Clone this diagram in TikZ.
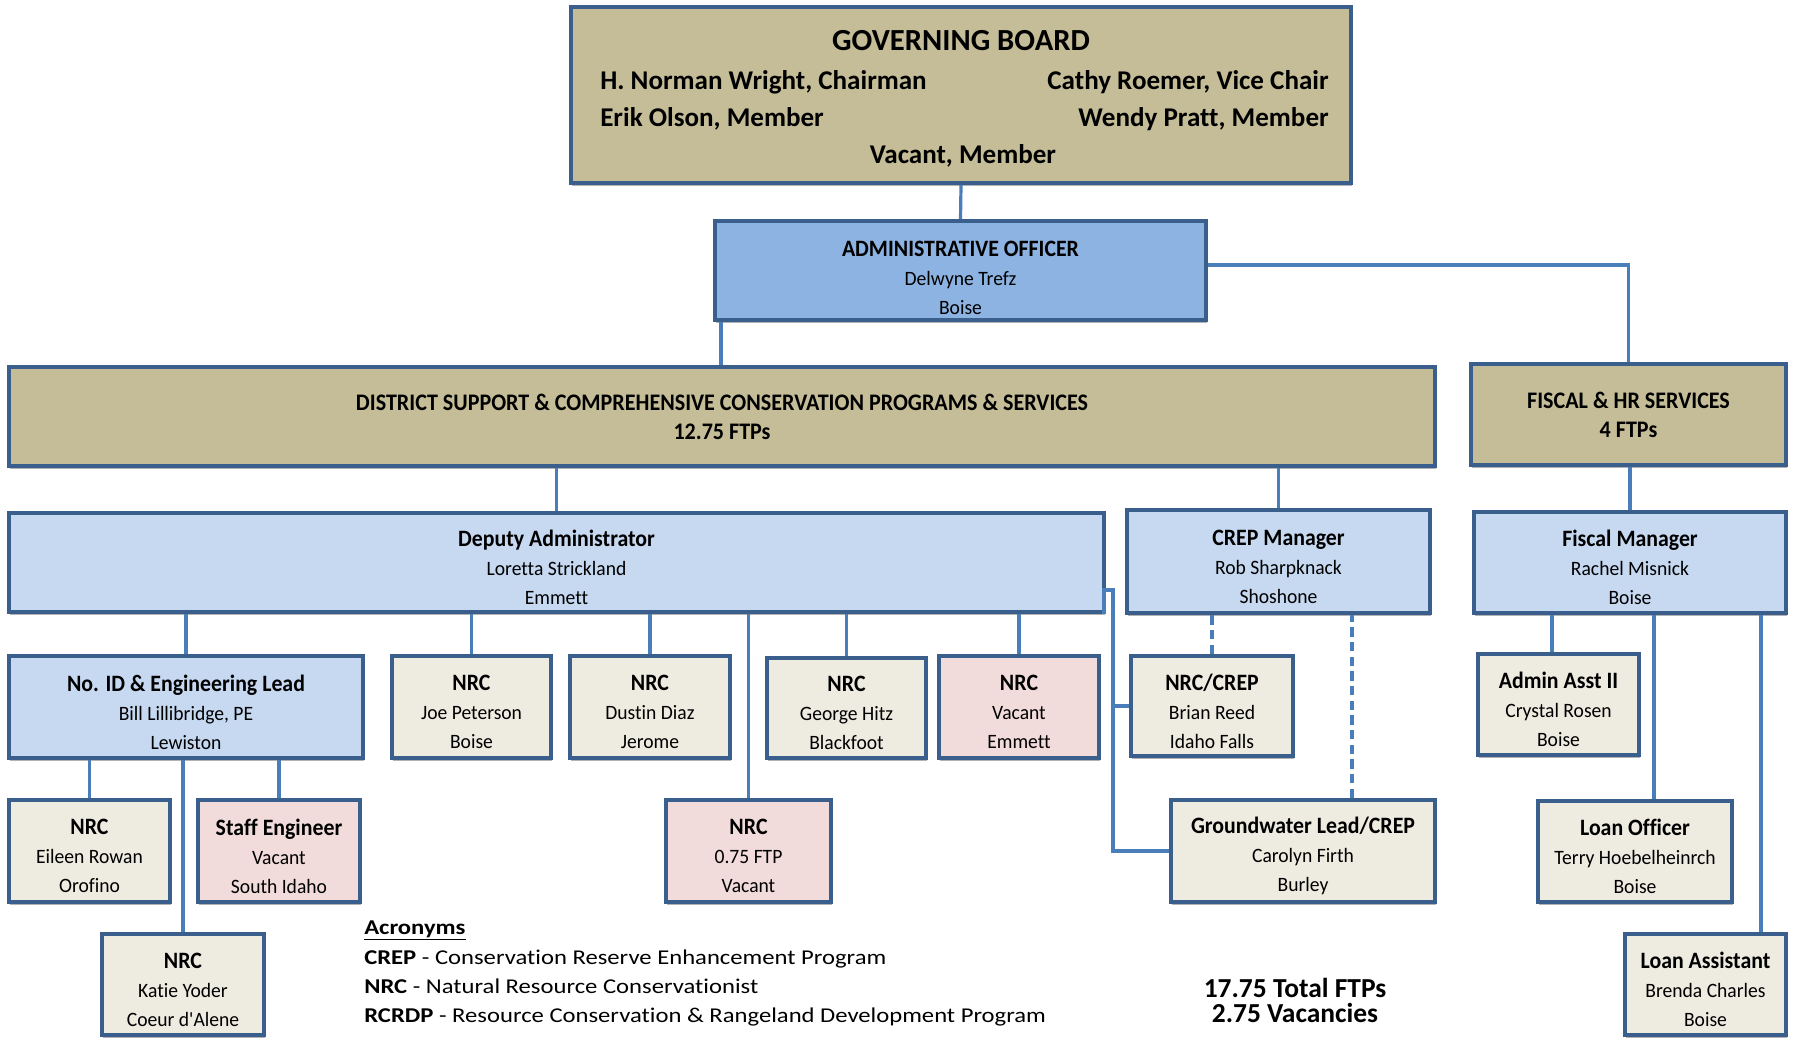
\documentclass[tikz,border=0pt]{standalone}
\usepackage{fontspec}
\setmainfont[Ligatures=NoCommon]{Carlito}
\newfontfamily\hdfam[FakeStretch=0.93,Ligatures=NoCommon]{Carlito}
\newfontfamily\subfam[FakeStretch=0.96,Ligatures=NoCommon]{Carlito}
\newfontfamily\legfam[FakeStretch=1.17,Ligatures=NoCommon]{Carlito}
\usetikzlibrary{shadows,calc}
\definecolor{tanf}{HTML}{C4BD97}
\definecolor{aof}{HTML}{8DB3E2}
\definecolor{ltb}{HTML}{C6D9F1}
\definecolor{bge}{HTML}{EEECE1}
\definecolor{pnk}{HTML}{F2DCDB}
\definecolor{bordc}{HTML}{3B5F8C}
\definecolor{connc}{HTML}{4A7EBB}
\newcommand\hdf{\hdfam\fontsize{17.6}{21.75}\selectfont\bfseries}
\newcommand\subf{\subfam\fontsize{15.3}{21.75}\selectfont}
\newcommand\dsf{\hdfam\fontsize{17.8}{24}\selectfont\bfseries}
\newcommand\gbm{\fontsize{20.3}{24}\selectfont\bfseries}
\newcommand\lgf{\legfam\fontsize{15.8}{22}\selectfont}
\tikzset{
  box/.style={draw=bordc, line width=3pt, inner sep=0pt,
    drop shadow={shadow xshift=1pt, shadow yshift=-2.5pt, opacity=0.3, fill=black}},
  btxt/.style={inner sep=0pt, align=center, font=\subf},
  conn/.style={draw=connc, line width=2.4pt},
  dconn/.style={conn, dash pattern=on 7pt off 4pt},
  lbl/.style={inner sep=0pt},
}
% \bx[text shift]{fill}{name}{l}{t}{r}{b}{text}
\newcommand\bx[8][5]{%
  \node[box,fill=#2,minimum width={(#6-#4)*0.75pt},minimum height={(#7-#5)*0.75pt}] (#3) at ({(#4+#6)/2},{(#5+#7)/2}) {};
  \node[btxt] (#3t) at ({(#4+#6)/2},{(#5+#7)/2+#1}) {#8};}
\begin{document}
\begin{tikzpicture}[x=0.75pt,y=-0.75pt]
\fill[white] (0,0) rectangle (1797,1048);
\useasboundingbox (0,0) rectangle (1797,1048);
% boxes
\bx{tanf}{gb}{571}{7}{1351}{183}{}
\bx[7]{aof}{ao}{715}{221}{1206}{320}{{\hdf ADMINISTRATIVE OFFICER}\\Delwyne Trefz\\Boise}
\bx[0]{tanf}{ds}{9}{367}{1435}{466}{{\dsf DISTRICT SUPPORT \& COMPREHENSIVE CONSERVATION PROGRAMS \& SERVICES}\\{\dsf 12.75 FTPs}}
\bx[0]{tanf}{fhr}{1471}{364}{1786}{465}{{\dsf FISCAL \& HR SERVICES}\\{\dsf 4 FTPs}}
\bx{ltb}{da}{9}{513}{1104}{612}{{\hdf Deputy Administrator}\\Loretta Strickland\\Emmett}
\bx{ltb}{cm}{1127}{510}{1430}{613}{{\hdf CREP Manager}\\Rob Sharpknack\\Shoshone}
\bx{ltb}{fm}{1474}{512}{1786}{613}{{\hdf Fiscal Manager}\\Rachel Misnick\\Boise}
\bx{ltb}{nid}{9}{656}{363}{758}{{\hdf No. ID \& Engineering Lead}\\Bill Lillibridge, PE\\Lewiston}
\bx{bge}{jp}{392}{656}{551}{758}{{\hdf NRC}\\Joe Peterson\\Boise}
\bx{bge}{dd}{570}{656}{730}{758}{{\hdf NRC}\\Dustin Diaz\\Jerome}
\bx{bge}{gh}{767}{658}{926}{758}{{\hdf NRC}\\George Hitz\\Blackfoot}
\bx{pnk}{ve}{939}{656}{1099}{758}{{\hdf NRC}\\Vacant\\Emmett}
\bx{bge}{nc}{1131}{656}{1293}{756}{{\hdf NRC/CREP}\\Brian Reed\\Idaho Falls}
\bx{bge}{aa}{1478}{654}{1639}{755}{{\hdf Admin Asst II}\\Crystal Rosen\\Boise}
\bx{bge}{er}{9}{800}{170}{902}{{\hdf NRC}\\Eileen Rowan\\Orofino}
\bx{pnk}{se}{198}{800}{360}{902}{{\hdf Staff Engineer}\\Vacant\\South Idaho}
\bx{pnk}{nf}{666}{800}{831}{902}{{\hdf NRC}\\0.75 FTP\\Vacant}
\bx{bge}{gw}{1171}{800}{1435}{902}{{\hdf Groundwater Lead/CREP}\\Carolyn Firth\\Burley}
\bx{bge}{lo}{1538}{801}{1732}{902}{{\hdf Loan Officer}\\Terry Hoebelheinrch\\Boise}
\bx{bge}{ky}{102}{934}{264}{1035}{{\hdf NRC}\\Katie Yoder\\Coeur d'Alene}
\bx{bge}{la}{1625}{934}{1786}{1035}{{\hdf Loan Assistant}\\Brenda Charles\\Boise}
% governing board text
\node[lbl,font=\fontsize{23}{28}\selectfont\bfseries] (gbt) at (961,41) {GOVERNING BOARD};
\node[lbl,font=\gbm,anchor=west] (gm1) at (600,82) {H. Norman Wright, Chairman};
\node[lbl,font=\gbm,anchor=east] (gm2) at (1329,82) {Cathy Roemer, Vice Chair};
\node[lbl,font=\gbm,anchor=west] (gm3) at (600,119) {Erik Olson, Member};
\node[lbl,font=\gbm,anchor=east] (gm4) at (1329,119) {Wendy Pratt, Member};
\node[lbl,font=\gbm] (gm5) at (963,156) {Vacant, Member};
% connectors
\draw[conn] (gb.south) -- (ao.north);
\draw[conn] ([yshift=4.1pt]ao.east) -| (fhr.north);
\draw[conn] ([xshift=6pt]ao.south west) -- ([xshift=6pt]ao.south west |- ds.north);
\draw[conn] (da.north) -- (da.north |- ds.south);
\draw[conn] (cm.north) -- (cm.north |- ds.south);
\draw[conn] (fm.north) -- (fm.north |- fhr.south);
\foreach \c in {nid,jp,dd,gh,ve,nf}{\draw[conn] (\c.north) -- (\c.north |- da.south);}
\foreach \c in {er,se,ky}{\draw[conn] (\c.north) -- (\c.north |- nid.south);}
\coordinate (bk) at (1113,590);
\draw[conn] ([xshift=-1.5pt]da.south east) |- (bk) -- (bk |- gw.west) -- (gw.west);
\draw[conn] (bk |- nc.west) -- (nc.west);
\draw[dconn] (nc.north) -- (nc.north |- cm.south);
\draw[dconn] ([xshift=36.75pt]gw.north) -- ([xshift=36.75pt]gw.north |- cm.south);
\draw[conn] ([xshift=-4.9pt]aa.north) -- ([xshift=-4.9pt]aa.north |- fm.south);
\draw[conn] ([xshift=14.25pt]lo.north) -- ([xshift=14.25pt]lo.north |- fm.south);
\draw[conn] ([xshift=41.6pt]la.north) -- ([xshift=41.6pt]la.north |- fm.south);
% legend
\node[lbl,anchor=base west,font=\lgf] (acr1) at (364,934) {\underline{\textbf{Acronyms}}};
\node[lbl,anchor=base west,font=\lgf] (acr2) at (364,964) {\textbf{CREP} - Conservation Reserve Enhancement Program};
\node[lbl,anchor=base west,font=\lgf] (acr3) at (364,993) {\textbf{NRC} - Natural Resource Conservationist};
\node[lbl,anchor=base west,font=\lgf] (acr4) at (364,1022) {\textbf{RCRDP} - Resource Conservation \& Rangeland Development Program};
\node[lbl,anchor=base,font=\fontsize{20.6}{21}\selectfont\bfseries] (tot1) at (1295,997) {17.75 Total FTPs};
\node[lbl,anchor=base,font=\fontsize{20.6}{21}\selectfont\bfseries] (tot2) at (1295,1022) {2.75 Vacancies};
\end{tikzpicture}
\end{document}
